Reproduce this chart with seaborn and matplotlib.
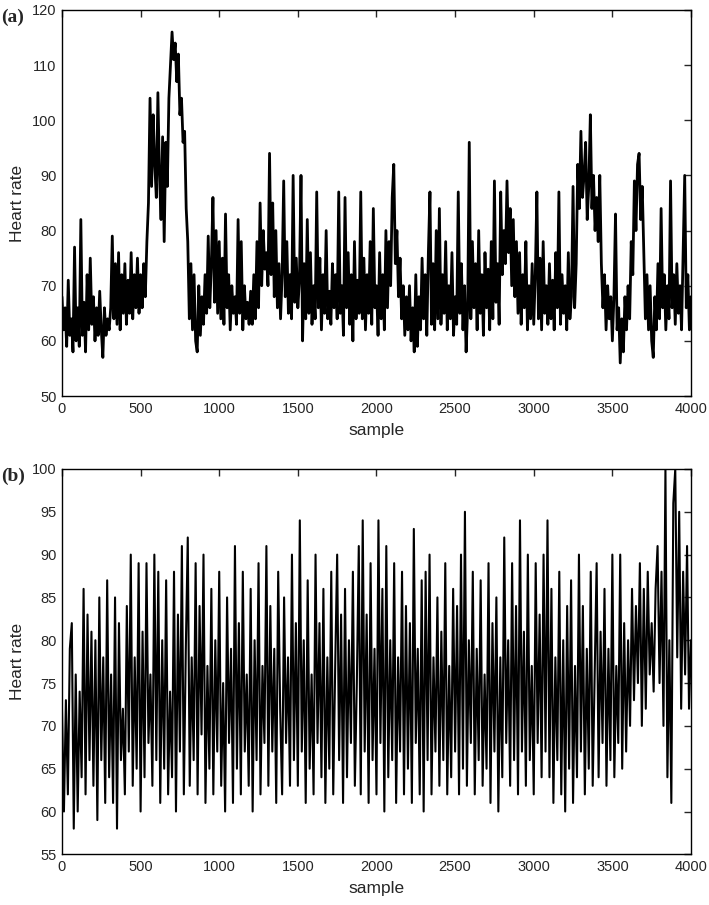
import numpy as np
import pandas as pd
import seaborn as sns
import matplotlib.pyplot as plt

# heart rate series
# panel (a): one value every 10 samples, 0..4000
hr_a = [
    68, 62, 66, 59, 71, 61, 64, 58, 77, 60,
    66, 59, 82, 61, 67, 58, 72, 62, 75, 63,
    68, 60, 66, 61, 69, 62, 57, 66, 61, 64,
    62, 66, 79, 64, 74, 63, 76, 62, 72, 65,
    74, 63, 71, 65, 76, 64, 72, 66, 75, 65,
    72, 66, 74, 68, 78, 85, 104, 88, 101, 92,
    86, 105, 90, 82, 97, 78, 96, 88, 104, 110,
    116, 111, 114, 107, 112, 101, 104, 96, 98, 84,
    78, 64, 74, 62, 72, 60, 58, 70, 61, 68,
    63, 72, 65, 79, 66, 74, 86, 67, 80, 65,
    78, 64, 75, 63, 83, 66, 72, 62, 70, 65,
    68, 63, 82, 65, 78, 62, 70, 64, 67, 63,
    69, 63, 72, 64, 78, 66, 85, 70, 80, 73,
    76, 70, 94, 72, 85, 68, 80, 66, 74, 64,
    72, 89, 68, 78, 65, 72, 64, 90, 67, 75,
    66, 71, 90, 60, 74, 64, 82, 65, 76, 63,
    70, 64, 87, 66, 75, 62, 72, 65, 80, 64,
    69, 63, 74, 66, 72, 64, 87, 65, 70, 61,
    86, 66, 76, 63, 72, 60, 78, 64, 71, 65,
    87, 64, 75, 62, 72, 65, 78, 63, 84, 66,
    70, 61, 76, 64, 72, 62, 80, 66, 78, 70,
    86, 92, 74, 80, 68, 75, 64, 70, 61, 68,
    62, 70, 60, 66, 58, 72, 59, 68, 62, 75,
    64, 72, 61, 76, 87, 63, 74, 62, 80, 64,
    84, 63, 72, 65, 78, 62, 70, 64, 76, 61,
    68, 63, 87, 65, 74, 62, 70, 58, 66, 96,
    64, 78, 66, 74, 62, 80, 65, 72, 61, 76,
    66, 73, 62, 78, 64, 89, 67, 74, 63, 87,
    72, 80, 74, 89, 76, 84, 70, 82, 68, 78,
    65, 76, 63, 72, 66, 78, 62, 70, 64, 74,
    63, 72, 87, 64, 75, 62, 78, 65, 70, 63,
    74, 64, 71, 62, 76, 66, 87, 63, 72, 65,
    70, 62, 76, 64, 68, 88, 66, 74, 92, 84,
    98, 86, 90, 96, 82, 88, 101, 84, 90, 80,
    86, 78, 90, 74, 66, 72, 62, 70, 64, 68,
    60, 68, 83, 62, 66, 56, 64, 58, 68, 62,
    70, 64, 78, 72, 89, 80, 92, 94, 82, 88,
    76, 64, 72, 62, 70, 60, 57, 68, 62, 74,
    64, 84, 66, 72, 62, 70, 64, 89, 66, 72,
    63, 74, 65, 70, 62, 76, 90, 66, 72, 62, 68,
]

# panel (b): one value every 12.5 samples, 0..4000
hr_b = [
    72, 60, 73, 62, 79, 82, 58, 76,
    60, 74, 64, 86, 62, 83, 66, 81,
    63, 80, 59, 85, 66, 78, 61, 87,
    64, 76, 61, 85, 58, 82, 66, 72,
    62, 84, 67, 90, 63, 78, 65, 89,
    60, 81, 64, 89, 68, 76, 63, 90,
    66, 88, 61, 80, 65, 87, 62, 74,
    64, 88, 60, 83, 67, 91, 62, 79,
    92, 63, 78, 66, 89, 62, 84, 69,
    90, 61, 77, 65, 86, 62, 80, 67,
    88, 63, 75, 60, 85, 68, 79, 61,
    91, 65, 82, 62, 88, 67, 76, 63,
    86, 60, 80, 66, 89, 62, 77, 68,
    91, 63, 84, 67, 79, 61, 88, 72,
    62, 85, 68, 78, 63, 90, 66, 82,
    63, 94, 67, 80, 61, 87, 65, 76,
    62, 90, 68, 82, 64, 86, 61, 78,
    65, 88, 62, 77, 90, 66, 83, 61,
    86, 64, 80, 68, 88, 63, 75, 91,
    62, 94, 67, 83, 61, 89, 66, 79,
    62, 94, 68, 86, 60, 91, 64, 80,
    66, 89, 61, 78, 67, 88, 62, 84,
    65, 82, 61, 93, 68, 79, 62, 87,
    60, 88, 66, 90, 62, 78, 67, 85,
    63, 81, 66, 89, 62, 77, 64, 86,
    67, 84, 62, 90, 65, 95, 63, 80,
    68, 88, 62, 79, 66, 87, 63, 76,
    65, 89, 61, 82, 67, 85, 60, 78,
    64, 92, 68, 80, 63, 89, 66, 84,
    62, 94, 67, 81, 63, 90, 66, 77,
    62, 89, 68, 83, 64, 90, 67, 94,
    64, 86, 61, 78, 66, 88, 62, 80,
    60, 84, 65, 87, 61, 77, 64, 90,
    67, 84, 62, 79, 65, 88, 63, 76,
    89, 64, 81, 68, 86, 63, 79, 66,
    90, 64, 77, 68, 90, 65, 82, 67,
    80, 70, 86, 73, 84, 75, 89, 70,
    86, 72, 88, 76, 82, 74, 86, 91,
    75, 88, 70, 100, 64, 80, 61, 96,
    100, 78, 95, 72, 88, 76, 91, 72,
    80,
]

panel_labels = ['(a)', '(b)']
y_limits = [(50, 120), (55, 100)]
y_steps = [10, 5]

df_a = pd.DataFrame({'sample': np.linspace(0, 4000, len(hr_a)), 'hr': hr_a})
df_b = pd.DataFrame({'sample': np.linspace(0, 4000, len(hr_b)), 'hr': hr_b})

sns.set_style('white')
plt.rcParams['font.family'] = ['Liberation Sans', 'DejaVu Sans']

fig = plt.figure(figsize=(7.09, 9.05), dpi=100)
ax_a = fig.add_axes([0.0874, 0.5624, 0.8872, 0.4266])
ax_b = fig.add_axes([0.0874, 0.0560, 0.8872, 0.4258])

for ax, df, lab, ylim, step, ytop, lw in zip([ax_a, ax_b], [df_a, df_b], panel_labels,
                                             y_limits, y_steps, [0.990, 0.483], [2.0, 1.5]):
    sns.lineplot(data=df, x='sample', y='hr', ax=ax, color='black', linewidth=lw)
    ax.set_xlim(0, 4000)
    ax.set_ylim(*ylim)
    ax.set_xticks(np.arange(0, 4001, 500))
    ax.set_yticks(np.arange(ylim[0], ylim[1] + 1, step))
    ax.tick_params(direction='in', top=True, right=True, length=5, width=1,
                   labelsize=10.5, pad=4)
    for sp in ax.spines.values():
        sp.set_linewidth(1.0)
        sp.set_color('black')
    ax.set_xlabel('sample', fontsize=12.5, labelpad=5)
    ax.set_ylabel('Heart rate', fontsize=12.5, labelpad=5)
    fig.text(0.002, ytop, lab, fontsize=14, fontweight='bold',
             family='Liberation Serif', va='top', ha='left')

fig.savefig('out.png', dpi=100)
